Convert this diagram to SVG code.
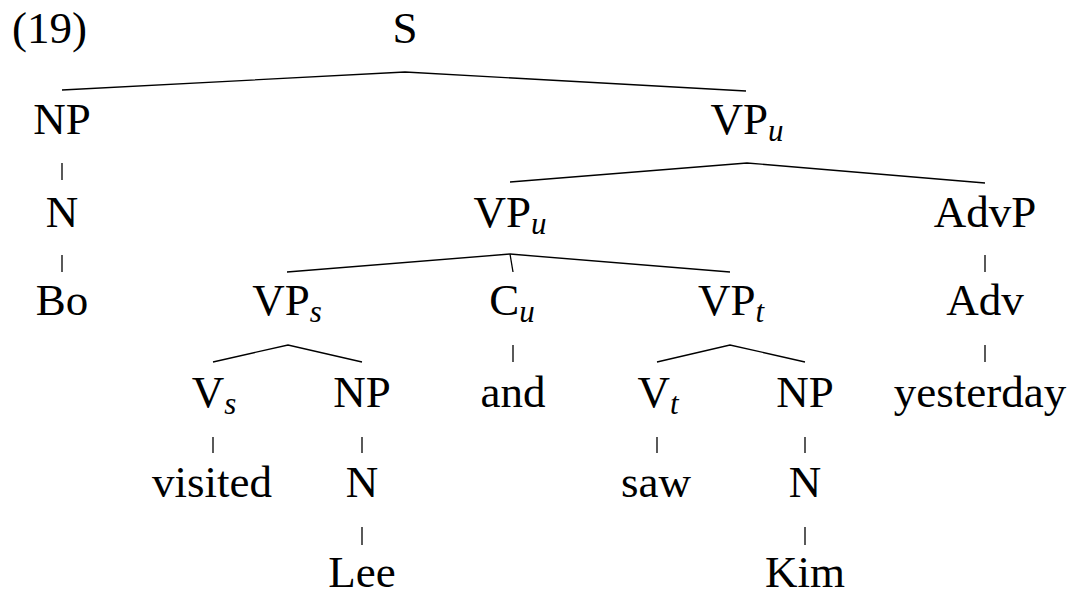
<svg xmlns="http://www.w3.org/2000/svg" width="1084" height="595" viewBox="0 0 1084 595">
<style>
text{font-size:45px;fill:#000;text-anchor:middle}
.sub{font-style:italic;font-size:31px}
.edges line,.edges polyline{stroke:#000;stroke-width:1.3;fill:none}
</style>
<rect width="1084" height="595" fill="#fff"/>
<g font-family="'Liberation Serif', 'Times New Roman', 'DejaVu Serif', serif">
<text x="12" y="43" style="text-anchor:start">(19)</text>
<g class="edges">
<polyline points="62,90 405,72 746,91"/>
<polyline points="510,182 747,163 985,183"/>
<polyline points="287,272 510,254 730,272"/>
<line x1="510" y1="254" x2="513" y2="272"/>
<polyline points="213,362 288,345 362,362"/>
<polyline points="657,362 730,345 805,362"/>
<line x1="62" y1="163" x2="62" y2="180"/>
<line x1="62" y1="255" x2="62" y2="272"/>
<line x1="985" y1="255" x2="985" y2="272"/>
<line x1="985" y1="345" x2="985" y2="362"/>
<line x1="513" y1="345" x2="513" y2="362"/>
<line x1="213" y1="437" x2="213" y2="453"/>
<line x1="362" y1="437" x2="362" y2="453"/>
<line x1="657" y1="437" x2="657" y2="453"/>
<line x1="805" y1="437" x2="805" y2="453"/>
<line x1="362" y1="527" x2="362" y2="545"/>
<line x1="805" y1="527" x2="805" y2="545"/>
</g>
<g id="n-S"><text x="405" y="43">S</text></g>
<g id="n-NP1"><text x="62" y="134">NP</text></g>
<g id="n-VPu1"><text x="747" y="134">VP<tspan class="sub" dy="7">u</tspan></text></g>
<g id="n-N1"><text x="62" y="227">N</text></g>
<g id="n-VPu2"><text x="510" y="227">VP<tspan class="sub" dy="7">u</tspan></text></g>
<g id="n-AdvP"><text x="985" y="227">AdvP</text></g>
<g id="n-Bo"><text x="62" y="315">Bo</text></g>
<g id="n-VPs"><text x="287" y="315">VP<tspan class="sub" dy="7">s</tspan></text></g>
<g id="n-Cu"><text x="512" y="315">C<tspan class="sub" dy="7">u</tspan></text></g>
<g id="n-VPt"><text x="731" y="315">VP<tspan class="sub" dy="7">t</tspan></text></g>
<g id="n-Adv"><text x="985" y="315">Adv</text></g>
<g id="n-Vs"><text x="214" y="407">V<tspan class="sub" dy="7">s</tspan></text></g>
<g id="n-NP2"><text x="362" y="407">NP</text></g>
<g id="n-and"><text x="513" y="407">and</text></g>
<g id="n-Vt"><text x="658" y="407">V<tspan class="sub" dy="7">t</tspan></text></g>
<g id="n-NP3"><text x="805" y="407">NP</text></g>
<g id="n-yesterday"><text x="980" y="407">yesterday</text></g>
<g id="n-visited"><text x="212" y="497">visited</text></g>
<g id="n-N2"><text x="362" y="497">N</text></g>
<g id="n-saw"><text x="656" y="497">saw</text></g>
<g id="n-N3"><text x="805" y="497">N</text></g>
<g id="n-Lee"><text x="362" y="587">Lee</text></g>
<g id="n-Kim"><text x="805" y="587">Kim</text></g>
</g>
</svg>
